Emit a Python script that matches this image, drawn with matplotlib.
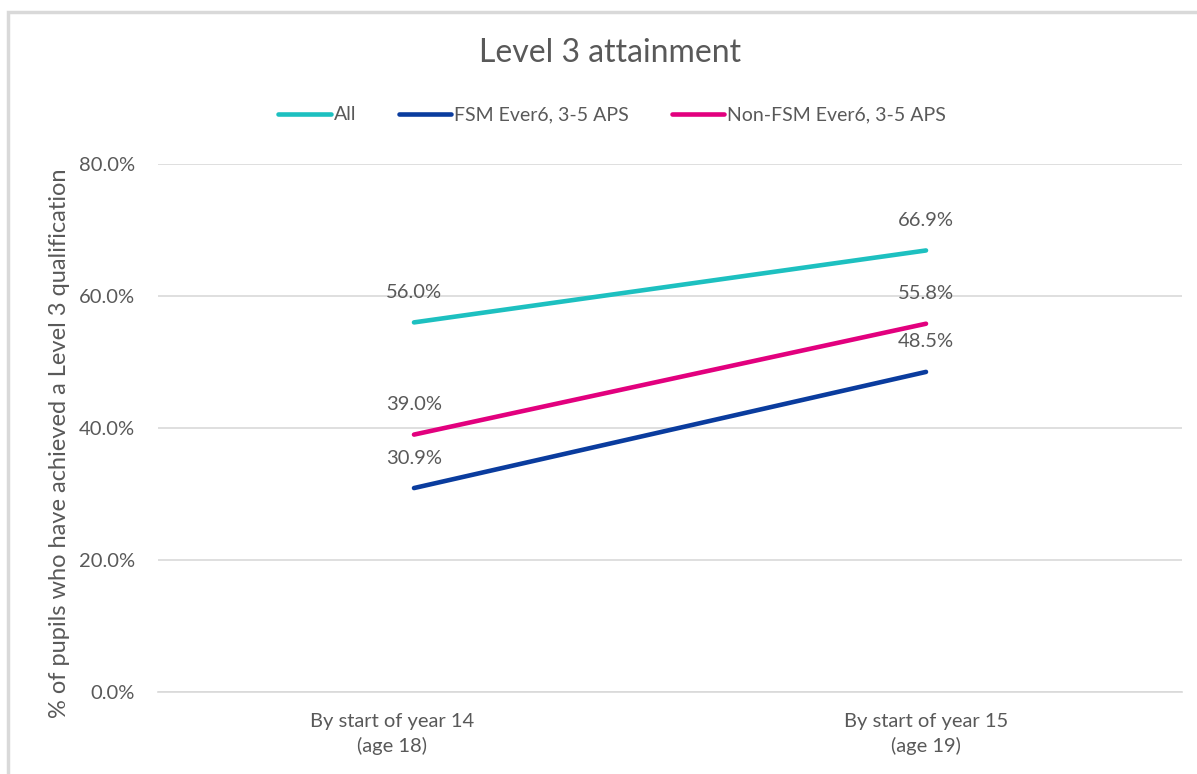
import matplotlib
matplotlib.use('Agg')
import matplotlib.pyplot as plt
import matplotlib.transforms as mtransforms
from matplotlib.patches import Rectangle

# data
categories = ['By start of year 14\n(age 18)', 'By start of year 15\n(age 19)']
series_names = ['All', 'FSM Ever6, 3-5 APS', 'Non-FSM Ever6, 3-5 APS']
all_pupils = [56.0, 66.9]
fsm_ever6 = [30.9, 48.5]
non_fsm_ever6 = [39.0, 55.8]
y_ticks = [0, 20, 40, 60, 80]

colours = ['#1DC0C0', '#0A3C9E', '#E2007E']
text_grey = '#595959'

plt.rcParams['font.family'] = ['Lato', 'DejaVu Sans']

fig = plt.figure(figsize=(11.97, 7.74), dpi=100)
ax = fig.add_axes([158 / 1197, 1 - 692 / 774, (1182 - 158) / 1197, (692 - 164) / 774])

# chart border
fig.patches.append(Rectangle((8 / 1197, -0.05), 1.1, 1 - 12 / 774 + 0.05,
                             transform=fig.transFigure, fill=False,
                             edgecolor='#D9D9D9', linewidth=2.5, clip_on=False))

x = list(range(len(categories)))
lines = []
for vals, name, col in zip([all_pupils, fsm_ever6, non_fsm_ever6], series_names, colours):
    ln, = ax.plot(x, vals, color=col, linewidth=3.3, solid_capstyle='round', label=name, zorder=3)
    lines.append(ln)
    for xi, v in zip(x, vals):
        ax.annotate(f'{v:.1f}%', (xi, v), xytext=(0, 15.5), textcoords='offset points',
                    ha='center', va='bottom', fontsize=14.5, color=text_grey)

ax.set_xlim(-0.5, 1.5)
ax.set_ylim(0, 80)
ax.set_yticks(y_ticks)
ax.set_yticklabels([f'{t:.1f}%' for t in y_ticks])
ax.set_xticks(x)
ax.set_xticklabels(categories, linespacing=1.5)
ax.grid(axis='y', color='#D9D9D9', linewidth=1.2)
ax.set_axisbelow(True)
for s in ['top', 'right', 'left']:
    ax.spines[s].set_visible(False)
ax.spines['bottom'].set_color('#D9D9D9')
ax.spines['bottom'].set_linewidth(1.2)
ax.tick_params(axis='both', length=0, labelsize=14.5, colors=text_grey)
ax.tick_params(axis='y', pad=16.5)
ax.tick_params(axis='x', pad=15)

# first category label sits a little left of its point
lbl = ax.get_xticklabels()[0]
lbl.set_transform(lbl.get_transform() + mtransforms.ScaledTranslation(-0.22, 0, fig.dpi_scale_trans))

fig.text(60 / 1197, 1 - 443 / 774, '% of pupils who have achieved a Level 3 qualification',
         rotation=90, ha='center', va='center', fontsize=17, color=text_grey)

fig.text(610 / 1197, 1 - 53 / 774, 'Level 3 attainment', ha='center', va='center',
         fontsize=23, color=text_grey)

fig.legend(handles=lines, loc='center', bbox_to_anchor=(612 / 1197, 1 - 115 / 774), ncol=3,
           frameon=False, fontsize=14, handlelength=2.7, handletextpad=0.15,
           columnspacing=2.2, labelcolor=text_grey)

fig.savefig('out.png', dpi=100)
